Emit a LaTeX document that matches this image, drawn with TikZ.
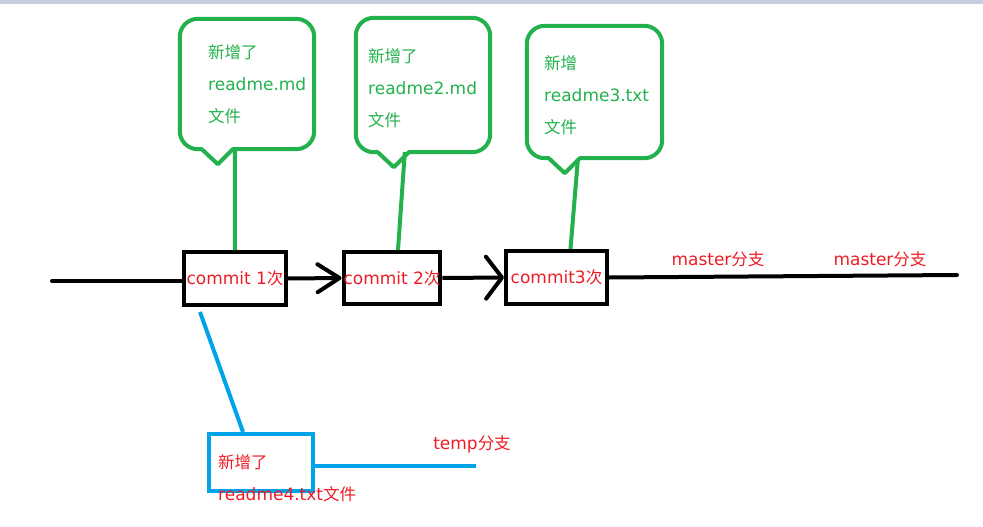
\documentclass[tikz,border=0pt]{standalone}
\usepackage{fontspec}
\setmainfont{DejaVu Sans}
\newfontfamily\cjk[Scale=0.97]{Noto Sans CJK SC}
\usetikzlibrary{calc}
\usetikzlibrary{arrows.meta}
\usepackage{xcolor}
\definecolor{pgreen}{RGB}{34,177,76}
\definecolor{pred}{RGB}{237,28,36}
\definecolor{pblue}{RGB}{0,162,232}
\definecolor{pbar}{RGB}{197,207,224}

\begin{document}
\begin{tikzpicture}[x=1pt,y=-1pt,
    commit/.style={draw=black,line width=4pt,inner sep=0pt,text=pred,font=\fontsize{17}{20}\selectfont},
    notebox/.style={minimum width=134pt,minimum height=130pt,inner sep=0pt},
    notetext/.style={anchor=west,inner sep=0pt,align=left,text=pgreen,font=\fontsize{17}{32}\selectfont},
    branch/.style={inner sep=0pt,text=pred,font=\fontsize{17}{32}\selectfont},
    pen/.style={line width=4pt}]
    \useasboundingbox (0,0) rectangle (983,527);
    \fill[pbar] (0,0) rectangle (983,4);
    \node[commit,minimum width=102pt,minimum height=53pt] (c1) at (235,278.5) {\raisebox{-2pt}{commit 1{\cjk 次}}};
    \node[commit,minimum width=96pt,minimum height=52pt] (c2) at (392,278) {\raisebox{-1pt}{commit 2{\cjk 次}}};
    \node[commit,minimum width=101pt,minimum height=53pt] (c3) at (556.5,277.5) {\raisebox{-1pt}{commit3{\cjk 次}}};
    \node[commit,draw=pblue,minimum width=104pt,minimum height=57pt] (tmp) at (261,462.5) {};
    \node[branch,anchor=west,align=left] (tmptext) at (218,478) {{\cjk 新增了}\\readme4.txt{\cjk 文件}};
    \coordinate (start) at (52,281);
    \coordinate (mend) at (957,275);
    \coordinate (tend) at (476,466);
    \draw[pen,line cap=round] (start) -- (start -| c1.west);
    \draw[pen,-{Straight Barb[length=22pt,width=28pt,round]}] (c1.east) -- (c2.west);
    \draw[pen,-{Straight Barb[length=16pt,width=42pt,round]}] (c2.east) -- (c3.west);
    \draw[pen,line cap=round] (c3.east) -- (mend);
    \node[branch] (m1) at (718,259) {master{\cjk 分支}};
    \node[branch] (m2) at (880,259) {master{\cjk 分支}};
    \node[notebox] (note1) at (247,84) {};
    \node[notebox,minimum height=134pt] (note2) at (423,85) {};
    \node[notebox,minimum width=135pt,minimum height=132pt] (note3) at (594.5,92) {};
    \foreach \n in {note1,note2,note3}
        \draw[pgreen,pen,line join=round] ($(\n.south west)+(22,0)$) -- ($(\n.south west)+(38,15)$)
            -- ($(\n.south west)+(53,0)$) [rounded corners=18pt] -- (\n.south east) -- (\n.north east)
            -- (\n.north west) -- (\n.south west) [sharp corners] -- cycle;
    \draw[pgreen,pen] ($(note1.south west)+(55,0)$) -- (c1.north);
    \draw[pgreen,pen] ($(note2.south west)+(49,0)$) -- ($(c2.north)+(6,0)$);
    \draw[pgreen,pen] ($(note3.south west)+(51,2)$) -- ($(c3.north)+(14,0)$);
    \node[notetext] (t1) at (208,84) {{\cjk 新增了}\\readme.md\\{\cjk 文件}};
    \node[notetext] (t2) at (368,88.5) {{\cjk 新增了}\\readme2.md\\{\cjk 文件}};
    \node[notetext] (t3) at (544,95) {{\cjk 新增}\\readme3.txt\\{\cjk 文件}};
    \draw[pblue,pen] ($(c1.south)+(-35,5)$) -- ($(tmp.north)+(-18,0)$);
    \draw[pblue,pen] ($(tmp.east)+(0,3.5)$) -- (tend);
    \node[branch] (tb) at (472,444) {temp{\cjk 分支}};
\end{tikzpicture}
\end{document}
